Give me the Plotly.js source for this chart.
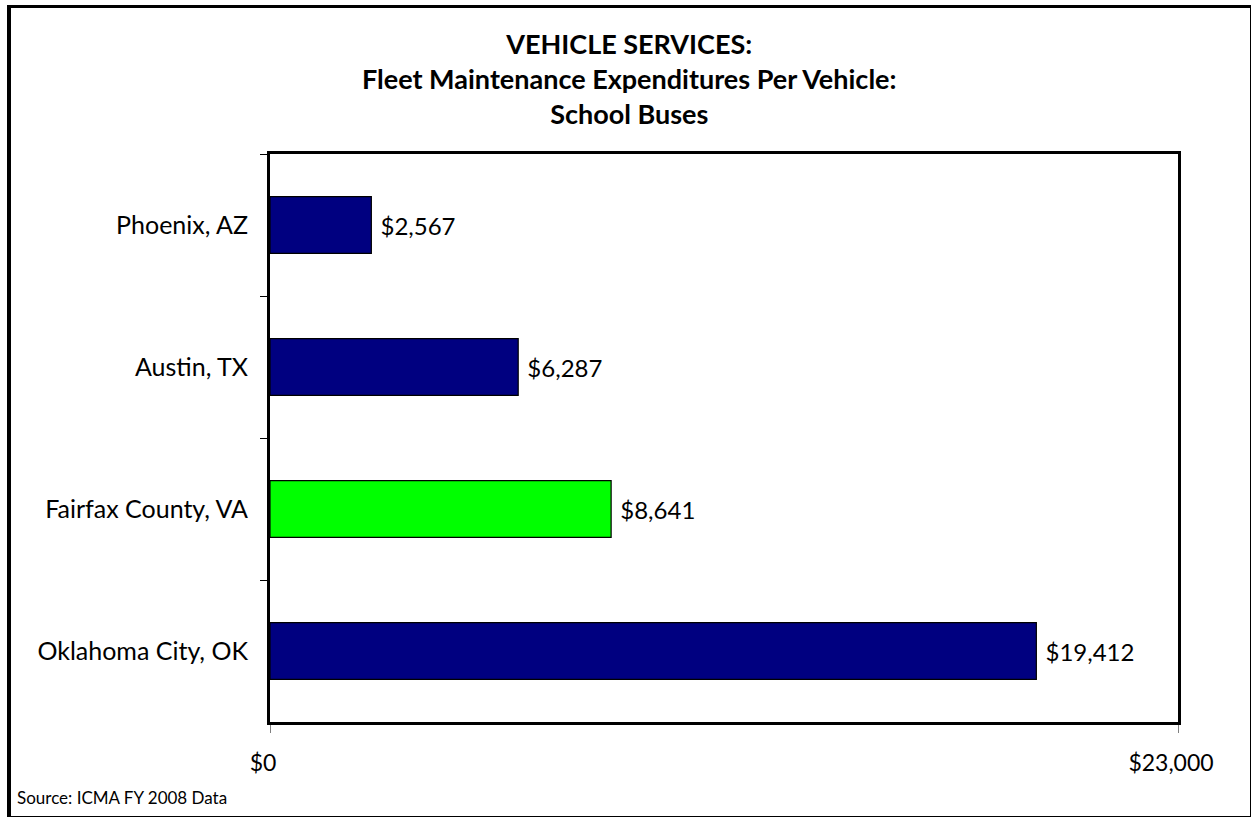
<!DOCTYPE html>
<html>
<head>
<meta charset="utf-8">
<script src="https://cdn.plot.ly/plotly-3.0.1.min.js"></script>
<style>
  html, body { margin: 0; padding: 0; background: #fff; }
  #chart { width: 1251px; height: 817px; position: absolute; left: 0; top: 0; }
  #frame { position: absolute; left: 7px; top: 5px; width: 1239px; height: 808px;
           border-left: 4px solid #000; border-top: 3px solid #000;
           border-right: 2px solid #000; border-bottom: 2px solid #000; pointer-events: none; }
</style>
</head>
<body>
<div id="chart"></div>
<div id="frame"></div>
<script>
const categories = ["Phoenix, AZ", "Austin, TX", "Fairfax County, VA", "Oklahoma City, OK"];
const values = [2567, 6287, 8641, 19412];
const barColors = ["#000080", "#000080", "#00FF00", "#000080"];
const valueLabels = ["$2,567", "$6,287", "$8,641", "$19,412"];
const xTickVals = [0, 23000];
const xTickText = ["$0", "$23,000"];
const titleText = "VEHICLE SERVICES:<br>Fleet Maintenance Expenditures Per Vehicle:<br>School Buses";
const sourceText = "Source: ICMA FY 2008 Data";

const FONT = "Lato, 'Open Sans', sans-serif";

const trace = {
  type: "bar",
  orientation: "h",
  y: categories,
  x: values,
  text: valueLabels,
  texttemplate: " %{text}",
  textposition: "outside",
  cliponaxis: false,
  textfont: { family: FONT, size: 24, color: "#000" },
  marker: { color: barColors, line: { color: "#000", width: 1.2 } },
  hoverinfo: "skip"
};

const layout = {
  width: 1251,
  height: 817,
  margin: { l: 270, r: 73, t: 154, b: 95, pad: 0 },
  paper_bgcolor: "#fff",
  plot_bgcolor: "#fff",
  showlegend: false,
  bargap: 0.6,
  font: { family: FONT, color: "#000" },
  title: {
    text: titleText,
    font: { family: FONT, size: 27, color: "#000", weight: "bold" },
    x: 0.503, xanchor: "center",
    y: 0.934, yanchor: "top"
  },
  xaxis: {
    range: [0, 23000],
    tickvals: xTickVals,
    ticktext: xTickText,
    ticks: "outside",
    ticklen: 8,
    tickwidth: 1,
    tickcolor: "#808080",
    ticklabelstandoff: 10,
    ticklabelshift: -7,
    tickfont: { family: FONT, size: 23, color: "#000" },
    showgrid: false,
    zeroline: false,
    showline: true,
    linecolor: "#000",
    linewidth: 3,
    mirror: true,
    fixedrange: true
  },
  yaxis: {
    type: "category",
    autorange: "reversed",
    tickson: "boundaries",
    ticks: "outside",
    ticklen: 7,
    tickwidth: 1,
    tickcolor: "#000",
    ticklabelstandoff: 14,
    tickfont: { family: FONT, size: 25, color: "#000" },
    showgrid: false,
    zeroline: false,
    showline: true,
    linecolor: "#000",
    linewidth: 3,
    mirror: true,
    fixedrange: true
  },
  annotations: [{
    text: sourceText,
    xref: "paper", yref: "paper",
    x: (15 - 270) / 908, y: (722 - 797) / 568,
    xanchor: "left", yanchor: "middle",
    showarrow: false,
    font: { family: FONT, size: 17, color: "#000" }
  }]
};

Plotly.newPlot("chart", [trace], layout, { displayModeBar: false, staticPlot: true });
</script>
</body>
</html>
